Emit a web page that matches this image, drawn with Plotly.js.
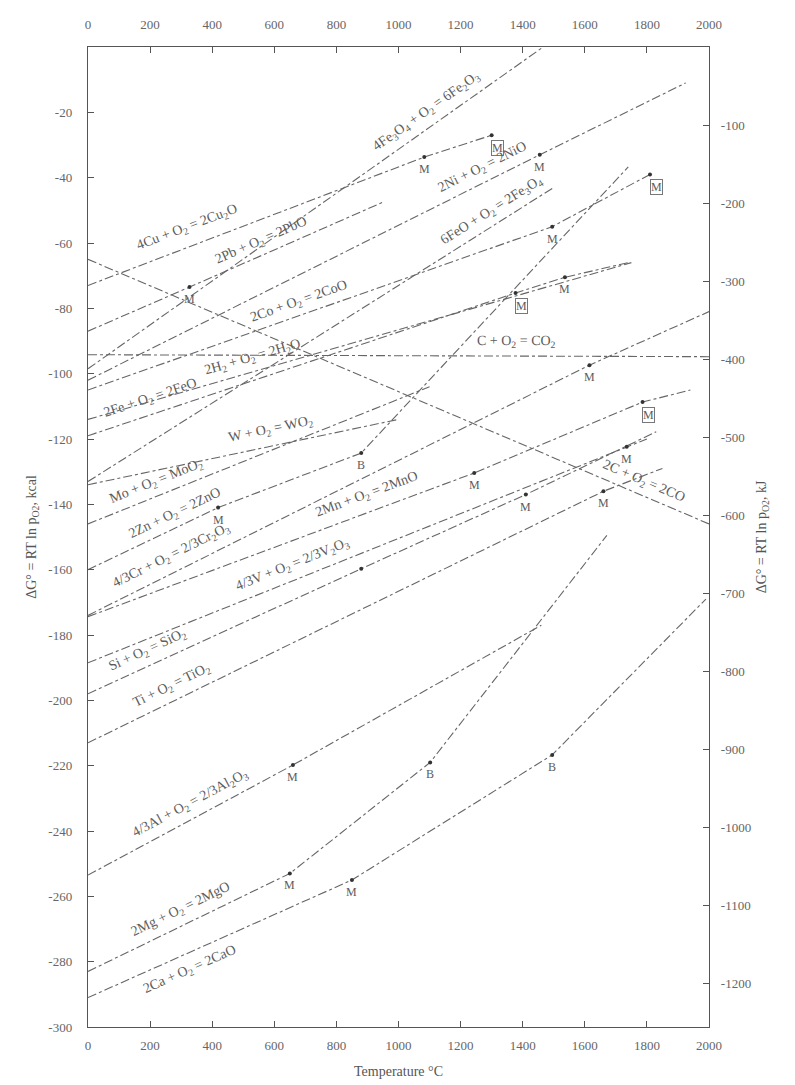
<!DOCTYPE html>
<html><head><meta charset="utf-8">
<script src="https://cdn.plot.ly/plotly-3.0.1.min.js"></script>
<style>html,body{margin:0;padding:0;background:#fff}#chart{width:795px;height:1085px}</style>
</head><body><div id="chart"></div>
<script>
// ---------- tick values ----------
const tempTicks = [0,200,400,600,800,1000,1200,1400,1600,1800,2000];
const kcalTicks = [-20,-40,-60,-80,-100,-120,-140,-160,-180,-200,-220,-240,-260,-280,-300];
const kjTicks = [-100,-200,-300,-400,-500,-600,-700,-800,-900,-1000,-1100,-1200];

// ---------- reaction lines: temperature (°C) / ΔG° (kcal per mol O2) ----------
const fe2o3T = [0, 1466];            const fe2o3G = [-98.5, 0];
const cu2oT  = [0, 1083, 1300];      const cu2oG  = [-73, -33.7, -27];
const pboT   = [0, 327, 950];        const pboG   = [-87, -73.5, -47.5];
const nioT   = [0, 1455, 1925];      const nioG   = [-102, -33, -11];
const fe3o4T = [0, 1500];            const fe3o4G = [-133, -43];
const cooT   = [0, 1495, 1810];      const cooG   = [-105, -55, -39];
const co2T   = [0, 2000];            const co2G   = [-94.2, -94.8];
const coT    = [0, 2000];            const coG    = [-65, -146];
const feoT   = [0, 1377, 1536, 1740];const feoG   = [-119, -75.3, -70.5, -66];
const h2oT   = [0, 1750];            const h2oG   = [-114, -66];
const wo2T   = [0, 1000];            const wo2G   = [-134, -114];
const moo2T  = [0, 1100];            const moo2G  = [-146, -104];
const znoT   = [0, 419, 880, 1740];  const znoG   = [-160, -141, -124.3, -36.7];
const cr2o3T = [0, 1615, 2000];      const cr2o3G = [-174, -97.4, -81];
const mnoT   = [0, 1244, 1786, 1940];const mnoG   = [-174.4, -130.4, -108.7, -105];
const v2o3T  = [0, 1735, 1800];      const v2o3G  = [-188.5, -122.4, -120];
const sio2T  = [0, 880, 1410, 1830]; const sio2G  = [-198, -159.7, -137, -117.8];
const tio2T  = [0, 1660, 1850];      const tio2G  = [-213, -136, -129];
const al2o3T = [0, 660, 1460];       const al2o3G = [-253.5, -219.8, -177];
const mgoT   = [0, 650, 1102, 1671]; const mgoG   = [-283, -253, -219, -149.5];
const caoT   = [0, 850, 1495, 1990]; const caoG   = [-291, -255, -216.7, -169];

// ---------- transition points (M = melting, B = boiling, Mb = oxide melting) ----------
const cu2oMarkT = [1083, 1300];  const cu2oMarkK = ['M','Mb'];
const pboMarkT  = [327];         const pboMarkK  = ['M'];
const nioMarkT  = [1455];        const nioMarkK  = ['M'];
const cooMarkT  = [1495, 1810];  const cooMarkK  = ['M','Mb'];
const feoMarkT  = [1377, 1536];  const feoMarkK  = ['Mb','M'];
const znoMarkT  = [419, 880];    const znoMarkK  = ['M','B'];
const cr2o3MarkT= [1615];        const cr2o3MarkK= ['M'];
const mnoMarkT  = [1244, 1786];  const mnoMarkK  = ['M','Mb'];
const v2o3MarkT = [1735];        const v2o3MarkK = ['M'];
const sio2MarkT = [880, 1410];   const sio2MarkK = ['', 'M'];
const tio2MarkT = [1660];        const tio2MarkK = ['M'];
const al2o3MarkT= [660];         const al2o3MarkK= ['M'];
const mgoMarkT  = [650, 1102];   const mgoMarkK  = ['M','B'];
const caoMarkT  = [850, 1495];   const caoMarkK  = ['M','B'];

// ---------- reaction labels ----------
const labels = {
  fe2o3: '4Fe<sub>3</sub>O<sub>4</sub> + O<sub>2</sub> = 6Fe<sub>2</sub>O<sub>3</sub>',
  cu2o: '4Cu + O<sub>2</sub> = 2Cu<sub>2</sub>O',
  pbo: '2Pb + O<sub>2</sub> = 2PbO',
  nio: '2Ni + O<sub>2</sub> = 2NiO',
  fe3o4: '6FeO + O<sub>2</sub> = 2Fe<sub>3</sub>O<sub>4</sub>',
  coo: '2Co + O<sub>2</sub> = 2CoO',
  co2: 'C + O<sub>2</sub> = CO<sub>2</sub>',
  co: '2C + O<sub>2</sub> = 2CO',
  feo: '2Fe + O<sub>2</sub> = 2FeO',
  h2o: '2H<sub>2</sub> + O<sub>2</sub> = 2H<sub>2</sub>O',
  wo2: 'W + O<sub>2</sub> = WO<sub>2</sub>',
  moo2: 'Mo + O<sub>2</sub> = MoO<sub>2</sub>',
  zno: '2Zn + O<sub>2</sub> = 2ZnO',
  cr2o3: '4/3Cr + O<sub>2</sub> = 2/3Cr<sub>2</sub>O<sub>3</sub>',
  mno: '2Mn + O<sub>2</sub> = 2MnO',
  v2o3: '4/3V + O<sub>2</sub> = 2/3V<sub>2</sub>O<sub>3</sub>',
  sio2: 'Si + O<sub>2</sub> = SiO<sub>2</sub>',
  tio2: 'Ti + O<sub>2</sub> = TiO<sub>2</sub>',
  al2o3: '4/3Al + O<sub>2</sub> = 2/3Al<sub>2</sub>O<sub>3</sub>',
  mgo: '2Mg + O<sub>2</sub> = 2MgO',
  cao: '2Ca + O<sub>2</sub> = 2CaO'
};

const SERIES = [
  {k:'fe2o3', T:fe2o3T, G:fe2o3G, mT:[], mK:[]},
  {k:'cu2o', T:cu2oT, G:cu2oG, mT:cu2oMarkT, mK:cu2oMarkK},
  {k:'pbo', T:pboT, G:pboG, mT:pboMarkT, mK:pboMarkK},
  {k:'nio', T:nioT, G:nioG, mT:nioMarkT, mK:nioMarkK},
  {k:'fe3o4', T:fe3o4T, G:fe3o4G, mT:[], mK:[]},
  {k:'coo', T:cooT, G:cooG, mT:cooMarkT, mK:cooMarkK},
  {k:'co2', T:co2T, G:co2G, mT:[], mK:[]},
  {k:'co', T:coT, G:coG, mT:[], mK:[]},
  {k:'feo', T:feoT, G:feoG, mT:feoMarkT, mK:feoMarkK},
  {k:'h2o', T:h2oT, G:h2oG, mT:[], mK:[]},
  {k:'wo2', T:wo2T, G:wo2G, mT:[], mK:[]},
  {k:'moo2', T:moo2T, G:moo2G, mT:[], mK:[]},
  {k:'zno', T:znoT, G:znoG, mT:znoMarkT, mK:znoMarkK},
  {k:'cr2o3', T:cr2o3T, G:cr2o3G, mT:cr2o3MarkT, mK:cr2o3MarkK},
  {k:'mno', T:mnoT, G:mnoG, mT:mnoMarkT, mK:mnoMarkK},
  {k:'v2o3', T:v2o3T, G:v2o3G, mT:v2o3MarkT, mK:v2o3MarkK},
  {k:'sio2', T:sio2T, G:sio2G, mT:sio2MarkT, mK:sio2MarkK},
  {k:'tio2', T:tio2T, G:tio2G, mT:tio2MarkT, mK:tio2MarkK},
  {k:'al2o3', T:al2o3T, G:al2o3G, mT:al2o3MarkT, mK:al2o3MarkK},
  {k:'mgo', T:mgoT, G:mgoG, mT:mgoMarkT, mK:mgoMarkK},
  {k:'cao', T:caoT, G:caoG, mT:caoMarkT, mK:caoMarkK}
];

// label placement (temperature along the line, vertical offset in kcal)
const LABEL_PLACE = {
  fe2o3:[1090,5.5], cu2o:[320,6], pbo:[560,4.5], nio:[1270,5], fe3o4:[1300,5],
  coo:[680,4.5], co2:[1380,4.5], co:[1790,4.5], feo:[200,5], h2o:[530,4.5], wo2:[590,5],
  moo2:[220,4.5], zno:[280,4.5], cr2o3:[270,5.5], mno:[900,5.5], v2o3:[660,5],
  sio2:[190,5], tio2:[270,5], al2o3:[330,5], mgo:[300,5], cao:[330,-5.5]
};

// ---------- geometry ----------
const W = 795, H = 1085;
const M = {l:88, r:86, t:47, b:58};
const TMAX = 2000, GMIN = -300, GMAX = 0;
const pxT = (W - M.l - M.r) / TMAX;
const pxG = (H - M.t - M.b) / (GMAX - GMIN);
const KJ = 4.184;

function interp(T, G, t){
  for (let i=0;i<T.length-1;i++){
    if (t>=T[i] && t<=T[i+1]) return G[i] + (G[i+1]-G[i])*(t-T[i])/(T[i+1]-T[i]);
  }
  return t < T[0] ? G[0] : G[G.length-1];
}
function slopeAt(T, G, t){
  for (let i=0;i<T.length-1;i++){
    if (t>=T[i] && t<=T[i+1]) return (G[i+1]-G[i])/(T[i+1]-T[i]);
  }
  return (G[G.length-1]-G[0])/(T[T.length-1]-T[0]);
}

const lineColor = '#666';
const textColor = '#5c5c5c';
const FONT = 'Liberation Serif, DejaVu Serif, serif';

const traces = [];
const annotations = [];
const mx = [], my = [];

SERIES.forEach(s => {
  traces.push({
    x: s.T, y: s.G, type:'scatter', mode:'lines', hoverinfo:'skip', showlegend:false,
    line:{color:lineColor, width:1.1, dash:'dashdot'}
  });
  s.mT.forEach((t, i) => {
    const g = interp(s.T, s.G, t);
    mx.push(t); my.push(g);
    const kind = s.mK[i];
    if (!kind) return;
    const boxed = kind === 'Mb';
    annotations.push({
      x: t, y: g, xref:'x', yref:'y', text: boxed ? 'M' : kind, showarrow:false,
      yshift: boxed ? -13 : -12, xshift: boxed ? 6 : 0,
      font:{family:FONT, size:12, color:textColor},
      bordercolor: boxed ? '#777' : 'rgba(0,0,0,0)', borderwidth: boxed ? 1 : 0, borderpad: 0
    });
  });
  const lp = LABEL_PLACE[s.k];
  const t = lp[0];
  const g = interp(s.T, s.G, t) + lp[1];
  const sl = slopeAt(s.T, s.G, t) * pxG / pxT;
  const ang = -Math.atan(sl) * 180 / Math.PI;
  annotations.push({
    x: t, y: g, xref:'x', yref:'y', text: labels[s.k], showarrow:false,
    textangle: ang, xanchor:'center', yanchor:'middle',
    font:{family:FONT, size:14, color:textColor}
  });
});

traces.push({
  x: mx, y: my, type:'scatter', mode:'markers', hoverinfo:'skip', showlegend:false,
  marker:{color:'#333', size:4}
});
// carrier trace for the top / right axes
traces.push({
  x: [0, TMAX], y: [GMIN*KJ, GMAX*KJ], xaxis:'x2', yaxis:'y2', type:'scatter', mode:'lines',
  hoverinfo:'skip', showlegend:false, line:{color:'rgba(0,0,0,0)', width:0}
});

const axisCommon = {
  showgrid:false, zeroline:false, showline:true, linecolor:'#555', linewidth:1.2,
  ticks:'inside', ticklen:6, tickcolor:'#555',
  tickfont:{family:FONT, size:13, color:'#666'}
};

const layout = {
  width: W, height: H,
  margin: {l:M.l, r:M.r, t:M.t, b:M.b, autoexpand:false},
  paper_bgcolor:'#fff', plot_bgcolor:'#fff',
  showlegend:false,
  xaxis: Object.assign({}, axisCommon, {
    range:[0, TMAX], tickvals: tempTicks, ticktext: tempTicks.map(String),
    ticklabelstandoff: 6,
    title:{text:'Temperature °C', standoff:14, font:{family:FONT, size:14, color:'#555'}}
  }),
  xaxis2: Object.assign({}, axisCommon, {
    range:[0, TMAX], overlaying:'x', side:'top', anchor:'y2',
    ticklabelstandoff: 12,
    tickvals: tempTicks, ticktext: tempTicks.map(String)
  }),
  yaxis: Object.assign({}, axisCommon, {
    range:[GMIN, GMAX], tickvals: kcalTicks, ticktext: kcalTicks.map(String),
    ticklabelstandoff: 12,
    title:{text:'ΔG° = RT ln p<sub>O2</sub>, kcal', standoff:8, font:{family:FONT, size:14, color:'#555'}}
  }),
  yaxis2: Object.assign({}, axisCommon, {
    range:[GMIN*KJ, GMAX*KJ], overlaying:'y', side:'right', anchor:'x2',
    ticklabelstandoff: 8,
    tickvals: kjTicks, ticktext: kjTicks.map(String),
    title:{text:'ΔG° = RT ln p<sub>O2</sub>, kJ', standoff:6, font:{family:FONT, size:14, color:'#555'}}
  }),
  annotations: annotations
};

Plotly.newPlot('chart', traces, layout, {staticPlot:true, displayModeBar:false});
</script>
</body></html>
